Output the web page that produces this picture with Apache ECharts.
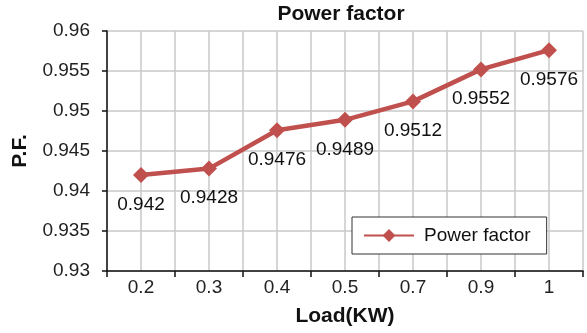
<!DOCTYPE html>
<html><head><meta charset="utf-8">
<script src="https://cdn.jsdelivr.net/npm/echarts@6/dist/echarts.min.js"></script>
<style>html,body{margin:0;padding:0;background:#fff}#c{width:587px;height:333px}</style>
</head><body><div id="c"></div>
<script>
const categories = ['0.2','0.3','0.4','0.5','0.7','0.9','1'];
const powerFactor = [0.942, 0.9428, 0.9476, 0.9489, 0.9512, 0.9552, 0.9576];
const seriesName = 'Power factor';
const titleText = 'Power factor';
const xName = 'Load(KW)';
const yName = 'P.F.';
const FONT = 'Liberation Sans';
const halfSteps = [];
for (let i = 0; i < categories.length * 2; i++) halfSteps.push('');
const chart = echarts.init(document.getElementById('c'), null, {renderer:'canvas'});
chart.setOption({
  animation: false,
  backgroundColor: '#fff',
  textStyle: {fontFamily: FONT},
  title: {text: titleText, left: 341, top: 4, textAlign: 'center', padding: 0,
    textStyle: {fontFamily: FONT, fontSize: 21, fontWeight: 'bold', color: '#111'}},
  grid: {left: 107, right: 4, top: 31, bottom: 62, containLabel: false},
  legend: {left: 352, top: 217, padding: [9, 16, 9, 11], itemWidth: 50, itemHeight: 16,
    borderColor: '#333', borderWidth: 1, backgroundColor: '#fff',
    textStyle: {fontFamily: FONT, fontSize: 19, color: '#111', padding: [0,0,0,5]},
    data: [seriesName]},
  xAxis: [{
    type: 'category', data: categories, boundaryGap: true,
    name: xName, nameLocation: 'middle', nameGap: 35,
    nameTextStyle: {fontFamily: FONT, fontSize: 21, fontWeight: 'bold', color: '#111'},
    axisLine: {lineStyle: {color: '#111', width: 1.5}},
    axisTick: {show: true, length: 6, lineStyle: {color: '#111', width: 1.5}},
    axisLabel: {fontFamily: FONT, fontSize: 19, color: '#222', margin: 7},
    splitLine: {show: false}, z: 5
  }, {
    type: 'category', data: halfSteps, boundaryGap: true, position: 'bottom',
    axisLine: {show: false}, axisTick: {show: false}, axisLabel: {show: false},
    splitLine: {show: true, lineStyle: {color: '#c8c8c8', width: 1.5}}
  }],
  yAxis: {
    type: 'value', min: 0.93, max: 0.96, interval: 0.005,
    name: yName, nameLocation: 'middle', nameGap: 76, nameRotate: 90,
    nameTextStyle: {fontFamily: FONT, fontSize: 21, fontWeight: 'bold', color: '#111'},
    axisLine: {show: true, lineStyle: {color: '#111', width: 1.5}},
    axisTick: {show: true, length: 5, lineStyle: {color: '#111', width: 1.5}},
    axisLabel: {fontFamily: FONT, fontSize: 19, color: '#222', margin: 17,
      formatter: v => String(parseFloat(v.toFixed(4)))},
    splitLine: {show: true, lineStyle: {color: '#c8c8c8', width: 1.5}}
  },
  series: [{
    name: seriesName, type: 'line', data: powerFactor, xAxisIndex: 0,
    symbol: 'diamond', symbolSize: [16, 16], z: 10,
    lineStyle: {color: '#c0504d', width: 4.5},
    itemStyle: {color: '#c0504d'},
    label: {show: true, position: 'bottom', distance: 12, fontFamily: FONT, fontSize: 19, color: '#111',
      formatter: p => String(p.value)}
  }]
});
</script></body></html>
